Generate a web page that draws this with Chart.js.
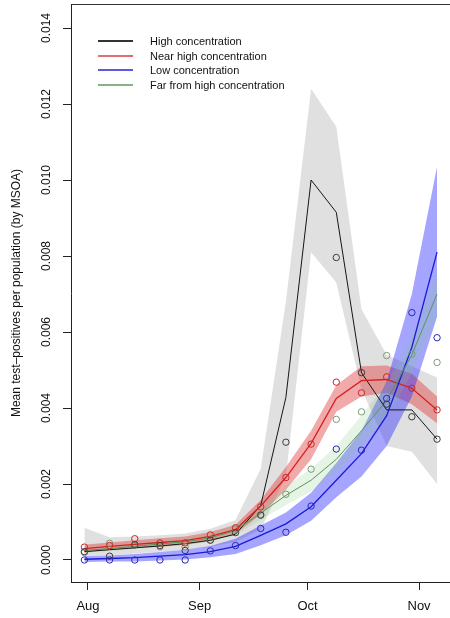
<!DOCTYPE html>
<html lang="en">
<head>
    <meta charset="UTF-8">
    <title>Mean test-positives per population</title>
    <style>
        body {
            margin: 0;
            padding: 0;
            background: #ffffff;
            overflow: hidden;
            font-family: "Liberation Sans", Arial, Helvetica, sans-serif;
        }

        .chart-box {
            position: relative;
            width: 450px;
            height: 618px;
        }

        .legend {
            position: absolute;
            left: 98px;
            top: 34px;
            font-size: 11px;
            color: #111;
        }

        .legend-row {
            display: flex;
            align-items: center;
            height: 14.6px;
        }

        .legend-row .swatch {
            display: inline-block;
            width: 35px;
            height: 2px;
            margin-right: 17px;
        }
    </style>
    <script src="https://cdn.jsdelivr.net/npm/chart.js"></script>
</head>
<body>
    <div class="chart-box">
        <canvas id="myChart"></canvas>
        <div class="legend" id="legend"></div>
    </div>

    <script>
        // days counted from 1 Aug, one sample per week
        const weekDays = [-1, 6, 13, 20, 27, 34, 41, 48, 55, 62, 69, 76, 83, 90, 97];

        const monthTicks = [0, 31, 61, 92];
        const monthLabels = ['Aug', 'Sep', 'Oct', 'Nov'];

        const yTicks = [0, 0.002, 0.004, 0.006, 0.008, 0.010, 0.012, 0.014];
        const yTickLabels = ['0.000', '0.002', '0.004', '0.006', '0.008', '0.010', '0.012', '0.014'];

        const seriesNames = ['High concentration', 'Near high concentration', 'Low concentration', 'Far from high concentration'];

        // High concentration
        const highFit = [0.00022, 0.00027, 0.00032, 0.00037, 0.00043, 0.00052, 0.00068, 0.00143, 0.00428, 0.0100, 0.00915, 0.00493, 0.00395, 0.00395, 0.00318];
        const highUpper = [0.00085, 0.0006, 0.00062, 0.00065, 0.0007, 0.00082, 0.00105, 0.0024, 0.0068, 0.0124, 0.0114, 0.0066, 0.0054, 0.0051, 0.0048];
        const highLower = [0.0001, 0.00012, 0.00017, 0.00022, 0.00027, 0.00035, 0.00048, 0.0008, 0.0022, 0.0081, 0.0073, 0.0045, 0.003, 0.00285, 0.002];
        const highObs = [0.00022, 0.0001, 0.0004, 0.00038, 0.00025, 0.00052, 0.00072, 0.00118, 0.0031, null, 0.00796, 0.00493, 0.0041, 0.00377, 0.00318];

        // Near high concentration
        const nearFit = [0.0003, 0.00036, 0.00041, 0.00046, 0.00051, 0.00062, 0.0008, 0.00142, 0.00217, 0.00307, 0.00425, 0.00472, 0.00475, 0.00452, 0.00395];
        const nearUpper = [0.0004, 0.00046, 0.00052, 0.00057, 0.00062, 0.00074, 0.00093, 0.00158, 0.00245, 0.0034, 0.0046, 0.0051, 0.00512, 0.0049, 0.0043];
        const nearLower = [0.0002, 0.00026, 0.00031, 0.00035, 0.0004, 0.0005, 0.00068, 0.0012, 0.00185, 0.00265, 0.0039, 0.0043, 0.0044, 0.0041, 0.0036];
        const nearObs = [0.00034, 0.00038, 0.00056, 0.00045, 0.00045, 0.00066, 0.00085, 0.0014, 0.00217, 0.00305, 0.00468, 0.0044, 0.00482, 0.00452, 0.00395];

        // Low concentration
        const lowFit = [0.00002, 0.00004, 0.00006, 0.0001, 0.00014, 0.00022, 0.00036, 0.00065, 0.00095, 0.0014, 0.0021, 0.0028, 0.0038, 0.0056, 0.0081];
        const lowUpper = [0.0001, 0.00012, 0.00016, 0.00021, 0.00027, 0.00037, 0.00056, 0.00091, 0.00125, 0.00177, 0.00255, 0.0034, 0.0047, 0.007, 0.01035];
        const lowLower = [-0.00005, -0.00004, -0.00004, -0.00001, 0.00001, 0.00007, 0.00016, 0.00039, 0.00065, 0.00103, 0.00165, 0.0022, 0.003, 0.0043, 0.0064];
        const lowObs = [0.0, 0.0, 0.0, 0.0, 0.0, 0.00024, 0.00038, 0.00083, 0.00073, 0.00142, 0.00292, 0.00289, 0.00425, 0.00651, 0.00585];

        // Far from high concentration
        const farFit = [0.00025, 0.0003, 0.00036, 0.00042, 0.00048, 0.00058, 0.00078, 0.00123, 0.0017, 0.0021, 0.00265, 0.0034, 0.0042, 0.0054, 0.007];
        const farUpper = [0.00031, 0.00036, 0.00043, 0.0005, 0.00057, 0.00068, 0.0009, 0.00141, 0.00195, 0.0024, 0.003, 0.0038, 0.00465, 0.0059, 0.0076];
        const farLower = [0.00019, 0.00024, 0.00029, 0.00034, 0.00039, 0.00048, 0.00066, 0.00105, 0.00145, 0.0018, 0.0023, 0.003, 0.00375, 0.0049, 0.0064];
        const farObs = [0.0002, 0.00044, 0.0004, 0.00035, 0.00035, 0.00053, 0.00081, 0.0012, 0.00173, 0.00239, 0.0037, 0.0039, 0.00538, 0.00542, 0.0052];

        const lineColors = ['#151515', '#d62020', '#1a1ad6', '#5a925a'];
        const pointColors = ['#3a3a3a', '#c82828', '#2626b8', '#7a9a7a'];
        const bandColors = ['rgba(165,165,165,0.35)', 'rgba(225,50,50,0.42)', 'rgba(40,40,255,0.42)', 'rgba(130,200,130,0.2)'];
        const swatchColors = ['#333333', '#e07070', '#5a5ae0', '#8ab08a'];

        const xy = arr => weekDays.map((d, i) => ({ x: d, y: arr[i] }));

        const groups = [
            { fit: highFit, upper: highUpper, lower: highLower, obs: highObs },
            { fit: nearFit, upper: nearUpper, lower: nearLower, obs: nearObs },
            { fit: lowFit, upper: lowUpper, lower: lowLower, obs: lowObs },
            { fit: farFit, upper: farUpper, lower: farLower, obs: farObs }
        ];

        const datasets = [];
        // bands first (lower + upper filled to the lower one)
        groups.forEach((g, k) => {
            datasets.push({
                data: xy(g.lower), borderWidth: 0, borderColor: 'transparent',
                pointRadius: 0, fill: false, order: 20 - k
            });
            datasets.push({
                data: xy(g.upper), borderWidth: 0, borderColor: 'transparent',
                pointRadius: 0, fill: '-1', backgroundColor: bandColors[k], order: 20 - k
            });
        });
        groups.forEach((g, k) => {
            datasets.push({
                label: seriesNames[k], data: xy(g.fit), borderColor: lineColors[k],
                borderWidth: k === 0 || k === 3 ? 1 : 1.3, pointRadius: 0, fill: false, order: 8 - k
            });
            datasets.push({
                data: xy(g.obs), showLine: false, pointRadius: 3.2, pointStyle: 'circle',
                pointBorderColor: pointColors[k], pointBackgroundColor: 'transparent',
                pointBorderWidth: 1, order: 1
            });
        });

        const fontFam = '"Liberation Sans", Arial, Helvetica, sans-serif';

        // no extra room for labels at the ends of the axes
        const noPad = s => { s.paddingTop = 0; s.paddingBottom = 0; s.paddingLeft = 0; s.paddingRight = 0; };

        const ctx = document.getElementById('myChart').getContext('2d');
        const myChart = new Chart(ctx, {
            type: 'line',
            data: { datasets: datasets },
            options: {
                responsive: true,
                maintainAspectRatio: false,
                animation: false,
                layout: { padding: 0, autoPadding: false },
                plugins: {
                    legend: { display: false },
                    tooltip: { enabled: false }
                },
                scales: {
                    x: {
                        type: 'linear',
                        position: 'bottom',
                        min: -4.72,
                        max: 100.6,
                        afterBuildTicks: s => { s.ticks = monthTicks.map(v => ({ value: v })); },
                        afterFit: s => { s.height = 36; noPad(s); },
                        ticks: {
                            autoSkip: false,
                            maxRotation: 0,
                            color: '#111',
                            padding: 9,
                            font: { family: fontFam, size: 13 },
                            callback: v => monthLabels[monthTicks.indexOf(v)]
                        },
                        grid: { display: true, drawOnChartArea: false, drawTicks: true, tickLength: 8, color: '#222' },
                        border: { display: true, color: '#222', width: 1 }
                    },
                    x2: {
                        type: 'linear',
                        position: 'top',
                        min: -4.72,
                        max: 100.6,
                        afterFit: s => { s.height = 4; noPad(s); },
                        ticks: { display: false },
                        grid: { display: false },
                        border: { display: true, color: '#333', width: 1 }
                    },
                    y: {
                        type: 'linear',
                        min: -0.000579,
                        max: 0.014632,
                        afterBuildTicks: s => { s.ticks = yTicks.map(v => ({ value: v })); },
                        afterFit: s => { s.width = 71; noPad(s); },
                        ticks: {
                            minRotation: 90,
                            maxRotation: 90,
                            crossAlign: 'center',
                            padding: 1,
                            color: '#111',
                            font: { family: fontFam, size: 12 },
                            callback: v => yTickLabels[yTicks.findIndex(t => Math.abs(t - v) < 1e-9)]
                        },
                        grid: { display: true, drawOnChartArea: false, drawTicks: true, tickLength: 8, color: '#222' },
                        border: { display: true, color: '#222', width: 1 },
                        title: {
                            display: true,
                            text: 'Mean test–positives per population (by MSOA)',
                            color: '#111',
                            font: { family: fontFam, size: 12 },
                            padding: { top: 9, bottom: 0 }
                        }
                    }
                }
            }
        });

        // legend in the upper left of the plot, like the original
        const legendEl = document.getElementById('legend');
        seriesNames.forEach((name, k) => {
            const row = document.createElement('div');
            row.className = 'legend-row';
            const sw = document.createElement('span');
            sw.className = 'swatch';
            sw.style.backgroundColor = swatchColors[k];
            const label = document.createElement('span');
            label.textContent = name;
            row.appendChild(sw);
            row.appendChild(label);
            legendEl.appendChild(row);
        });
    </script>
</body>
</html>
